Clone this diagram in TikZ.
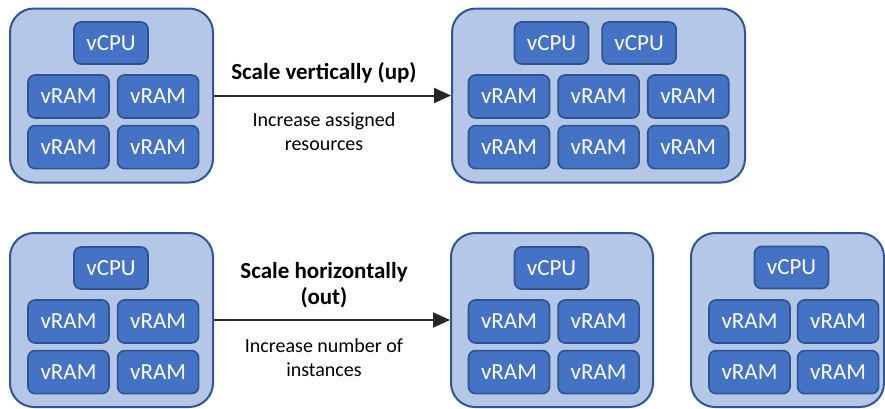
\documentclass[tikz,border=0pt]{standalone}
\usepackage{fontspec}
\setmainfont{Carlito}
\usepackage{tikz}
\usetikzlibrary{arrows.meta, positioning}
\definecolor{hostfill}{HTML}{B4C7E7}
\definecolor{hostline}{HTML}{2F5597}
\definecolor{unitfill}{HTML}{4472C4}
\definecolor{unitline}{HTML}{2F528F}

\begin{document}
\begin{tikzpicture}[
    x=1pt, y=-1pt,
    node distance=6pt and 7pt,
    host/.style={rectangle, draw=hostline, fill=hostfill, rounded corners=24pt, line width=2pt, minimum height=174pt, inner sep=0pt},
    cpu/.style={rectangle, draw=unitline, fill=unitfill, rounded corners=7pt, line width=1.6pt, minimum width=74pt, minimum height=42pt, inner sep=0pt, text=white, font=\fontsize{23}{25}\selectfont},
    ram/.style={cpu, minimum width=81pt, minimum height=43pt},
    caption/.style={align=center, font=\fontsize{20}{24}\selectfont},
    arrow/.style={-{Triangle[length=17pt, width=15pt]}, line width=2pt, black!85}
]
    \useasboundingbox (0,0) rectangle (885,408);

    % Scale up: before
    \node (upold) [host, minimum width=203pt] at (111.5,95.5) {};
    \node (upoldcpu) [cpu] at (111,43) {vCPU};
    \node (upoldram1) [ram] at (68.5,96.5) {vRAM};
    \node (upoldram2) [ram, right=of upoldram1] {vRAM};
    \node (upoldram3) [ram, below=of upoldram1] {vRAM};
    \node (upoldram4) [ram, right=of upoldram3] {vRAM};

    % Scale up: after
    \node (upnew) [host, minimum width=293pt] at (598.5,95.5) {};
    \node (upnewcpu1) [cpu] at (551.5,43) {vCPU};
    \node (upnewcpu2) [cpu, right=12pt of upnewcpu1] {vCPU};
    \node (upnewram1) [ram] at (509,96.5) {vRAM};
    \node (upnewram2) [ram, right=of upnewram1] {vRAM};
    \node (upnewram3) [ram, right=of upnewram2] {vRAM};
    \node (upnewram4) [ram, below=of upnewram1] {vRAM};
    \node (upnewram5) [ram, right=of upnewram4] {vRAM};
    \node (upnewram6) [ram, right=of upnewram5] {vRAM};

    % Scale out: before
    \node (outold) [host, minimum width=203pt] at (111.5,320) {};
    \node (outoldcpu) [cpu] at (111,268) {vCPU};
    \node (outoldram1) [ram] at (68.5,321.5) {vRAM};
    \node (outoldram2) [ram, right=of outoldram1] {vRAM};
    \node (outoldram3) [ram, below=of outoldram1] {vRAM};
    \node (outoldram4) [ram, right=of outoldram3] {vRAM};

    % Scale out: after (two instances)
    \node (outnew) [host, minimum width=202pt] at (552,320) {};
    \node (outnewcpu) [cpu] at (551.5,268) {vCPU};
    \node (outnewram1) [ram] at (509,321.5) {vRAM};
    \node (outnewram2) [ram, right=of outnewram1] {vRAM};
    \node (outnewram3) [ram, below=of outnewram1] {vRAM};
    \node (outnewram4) [ram, right=of outnewram3] {vRAM};

    \node (outextra) [host, minimum width=193pt] at (787.5,320) {};
    \node (outextracpu) [cpu] at (791.5,267.5) {vCPU};
    \node (outextraram1) [ram] at (749.5,321.5) {vRAM};
    \node (outextraram2) [ram, right=6pt of outextraram1] {vRAM};
    \node (outextraram3) [ram, below=of outextraram1] {vRAM};
    \node (outextraram4) [ram, right=6pt of outextraram3] {vRAM};

    % Labels
    \node (uptitle) [caption, font=\fontsize{23}{26}\selectfont\bfseries] at (324,73) {Scale vertically (up)};
    \node (upnote) [caption] at (324,132) {Increase assigned\\resources};
    \node (outtitle) [caption, font=\fontsize{23}{26}\selectfont\bfseries] at (324,285) {Scale horizontally\\(out)};
    \node (outnote) [caption] at (324,358) {Increase number of\\instances};

    % Paths
    \draw [arrow] (upold) -- (upnew);
    \draw [arrow] (outold) -- (outnew);
\end{tikzpicture}
\end{document}
